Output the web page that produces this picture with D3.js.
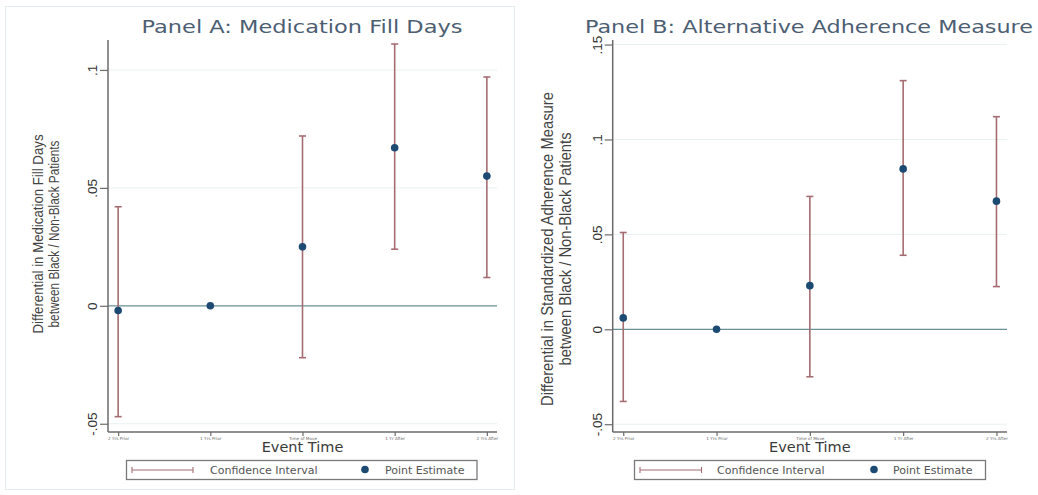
<!DOCTYPE html>
<html>
<head>
<meta charset="utf-8">
<script src="https://cdn.jsdelivr.net/npm/d3@7"></script>
<style>
  html, body { margin: 0; padding: 0; background: #ffffff; }
  svg { display: block; }
</style>
</head>
<body>
<svg id="chart" width="1038" height="495"></svg>
<script>
// ---- data ----
const categories = ["2 Yrs Prior", "1 Yrs Prior", "Time of Move", "1 Yr After", "2 Yrs After"];

const estA  = [-0.002, 0, 0.025, 0.067, 0.055];
const lowA  = [-0.047, null, -0.022, 0.024, 0.012];
const highA = [0.042, null, 0.072, 0.111, 0.097];

const estB  = [0.006, 0, 0.023, 0.0845, 0.0675];
const lowB  = [-0.038, null, -0.025, 0.039, 0.0225];
const highB = [0.051, null, 0.070, 0.131, 0.112];

const ticksA = [-0.05, 0, 0.05, 0.1];
const tickLabelsA = ["-.05", "0", ".05", ".1"];
const ticksB = [-0.05, 0, 0.05, 0.1, 0.15];
const tickLabelsB = ["-.05", "0", ".05", ".1", ".15"];

const titleA = "Panel A: Medication Fill Days";
const titleB = "Panel B: Alternative Adherence Measure";
const yTitleA = ["Differential in Medication Fill Days", "between Black / Non-Black Patients"];
const yTitleB = ["Differential in Standardized Adherence Measure", "between Black / Non-Black Patients"];
const xTitle = "Event Time";
const legendLabels = ["Confidence Interval", "Point Estimate"];

// ---- styles ----
const CI_COLOR = "#a56d72";
const PT_COLOR = "#1d4a73";
const AXIS_COLOR = "#6b6b6b";
const GRID_COLOR = "#e9f0f1";
const ZERO_COLOR = "#6a9196";
const TITLE_COLOR = "#4d5e73";
const NARROW = "'Liberation Sans Narrow', 'Arial Narrow', sans-serif";
const SANS = "'DejaVu Sans', Verdana, sans-serif";

const svg = d3.select("#chart");

function drawPanel(cfg) {
  const g = svg.append("g");
  const x = d3.scalePoint().domain(categories).range(cfg.xRange).padding(cfg.xPad);
  const y = d3.scaleLinear().domain(cfg.yDomain).range([432, 40]);
  const [x0, x1] = cfg.xRange;

  if (cfg.frame) {
    g.append("rect").attr("x", 5.5).attr("y", 6.5).attr("width", 509).attr("height", 483)
      .attr("fill", "none").attr("stroke", "#e3ecee").attr("stroke-width", 1);
  }

  // title
  g.append("text").attr("x", cfg.titleX).attr("y", 33)
    .attr("text-anchor", "middle").attr("font-family", SANS)
    .attr("font-size", cfg.titleSize).attr("fill", TITLE_COLOR)
    .attr("textLength", cfg.titleLen).attr("lengthAdjust", "spacingAndGlyphs")
    .text(cfg.title);

  // gridlines
  g.append("g").selectAll("line").data(cfg.ticks.filter(t => t !== 0)).join("line")
    .attr("x1", x0).attr("x2", x1)
    .attr("y1", d => y(d)).attr("y2", d => y(d))
    .attr("stroke", GRID_COLOR).attr("stroke-width", 1);

  // zero line
  g.append("line").attr("x1", x0).attr("x2", x1)
    .attr("y1", y(0)).attr("y2", y(0))
    .attr("stroke", ZERO_COLOR).attr("stroke-width", 1.3);

  // y axis
  const yAxis = d3.axisLeft(y).tickValues(cfg.ticks)
    .tickFormat((d, i) => cfg.tickLabels[i]).tickSize(8).tickSizeOuter(0);
  const ya = g.append("g").attr("transform", `translate(${x0},0)`).call(yAxis);
  ya.select(".domain").attr("stroke", AXIS_COLOR).attr("stroke-width", 1.5)
    .attr("d", `M0,40V432`);
  ya.selectAll(".tick line").attr("stroke", AXIS_COLOR).attr("stroke-width", 1.2);
  ya.selectAll(".tick text")
    .attr("transform", "rotate(-90)")
    .attr("x", 0).attr("y", -11).attr("dy", 0)
    .attr("text-anchor", "middle")
    .attr("font-family", NARROW).attr("font-size", 13.5).attr("fill", "#333");

  // x axis
  const xAxis = d3.axisBottom(x).tickSize(4).tickSizeOuter(0);
  const xa = g.append("g").attr("transform", "translate(0,432)").call(xAxis);
  xa.select(".domain").attr("stroke", AXIS_COLOR).attr("stroke-width", 1.5)
    .attr("d", `M${x0},0H${x1}`);
  xa.selectAll(".tick line").attr("stroke", AXIS_COLOR).attr("stroke-width", 1.2);
  xa.selectAll(".tick text").attr("y", 5).attr("dy", "0.71em")
    .attr("font-family", SANS).attr("font-size", 4.2).attr("fill", "#666");

  // y title
  cfg.yTitle.forEach((line, i) => {
    g.append("text")
      .attr("transform", `translate(${cfg.yTitleX[i]},${cfg.yTitleY}) rotate(-90)`)
      .attr("text-anchor", "middle")
      .attr("font-family", NARROW).attr("font-size", cfg.yTitleSize).attr("fill", "#444")
      .attr("textLength", cfg.yTitleLen[i]).attr("lengthAdjust", "spacingAndGlyphs")
      .text(line);
  });

  // x title
  g.append("text").attr("x", (x(categories[0]) + x(categories[4])) / 2).attr("y", 452)
    .attr("text-anchor", "middle").attr("font-family", SANS)
    .attr("font-size", 14.5).attr("fill", "#3a3a3a")
    .text(xTitle);

  // error bars
  const rows = categories.map((c, i) => ({c, est: cfg.est[i], lo: cfg.low[i], hi: cfg.high[i]}));
  const ci = rows.filter(r => r.lo !== null);
  const eb = g.append("g").attr("stroke", CI_COLOR).attr("stroke-width", 1.6);
  eb.selectAll("line.v").data(ci).join("line").attr("class", "v")
    .attr("x1", d => x(d.c)).attr("x2", d => x(d.c))
    .attr("y1", d => y(d.lo)).attr("y2", d => y(d.hi));
  eb.selectAll("line.t").data(ci).join("line").attr("class", "t")
    .attr("x1", d => x(d.c) - 3.5).attr("x2", d => x(d.c) + 3.5)
    .attr("y1", d => y(d.hi)).attr("y2", d => y(d.hi));
  eb.selectAll("line.b").data(ci).join("line").attr("class", "b")
    .attr("x1", d => x(d.c) - 3.5).attr("x2", d => x(d.c) + 3.5)
    .attr("y1", d => y(d.lo)).attr("y2", d => y(d.lo));

  // points
  g.append("g").selectAll("circle").data(rows).join("circle")
    .attr("cx", d => x(d.c)).attr("cy", d => y(d.est)).attr("r", 3.8)
    .attr("fill", PT_COLOR);

  // legend
  const L = cfg.legend;
  const lg = g.append("g");
  lg.append("rect").attr("x", L.x0).attr("y", 460.5).attr("width", L.x1 - L.x0).attr("height", 19)
    .attr("fill", "#fff").attr("stroke", "#7a7a7a").attr("stroke-width", 1.3);
  lg.append("line").attr("x1", L.ci0).attr("x2", L.ci1).attr("y1", 470).attr("y2", 470)
    .attr("stroke", CI_COLOR).attr("stroke-width", 1.1);
  [L.ci0, L.ci1].forEach(v => lg.append("line").attr("x1", v).attr("x2", v)
    .attr("y1", 467).attr("y2", 473).attr("stroke", CI_COLOR).attr("stroke-width", 1.1));
  lg.append("text").attr("x", L.t1).attr("y", 474).attr("font-family", SANS)
    .attr("font-size", 11).attr("fill", "#555").text(legendLabels[0]);
  lg.append("circle").attr("cx", L.dot).attr("cy", 469.5).attr("r", 3.8).attr("fill", PT_COLOR);
  lg.append("text").attr("x", L.t2).attr("y", 474).attr("font-family", SANS)
    .attr("font-size", 11).attr("fill", "#555").text(legendLabels[1]);
}

drawPanel({
  frame: true,
  xRange: [108, 497], xPad: 0.11,
  yDomain: [-0.0535, 0.1127],
  ticks: ticksA, tickLabels: tickLabelsA,
  est: estA, low: lowA, high: highA,
  title: titleA, titleX: 302, titleSize: 17.5, titleLen: 321,
  yTitle: yTitleA, yTitleX: [43, 59], yTitleY: 234, yTitleSize: 14, yTitleLen: [199, 187],
  legend: {x0: 126.5, x1: 477, ci0: 132, ci1: 193, t1: 210, dot: 365, t2: 385}
});

drawPanel({
  frame: false,
  xRange: [612.7, 1007], xPad: 0.113,
  yDomain: [-0.0541, 0.1524],
  ticks: ticksB, tickLabels: tickLabelsB,
  est: estB, low: lowB, high: highB,
  title: titleB, titleX: 809, titleSize: 18.5, titleLen: 448,
  yTitle: yTitleB, yTitleX: [553, 571], yTitleY: 249, yTitleSize: 17, yTitleLen: [314, 233],
  legend: {x0: 634.5, x1: 985.5, ci0: 640, ci1: 701.5, t1: 717, dot: 874, t2: 893}
});
</script>
</body>
</html>
